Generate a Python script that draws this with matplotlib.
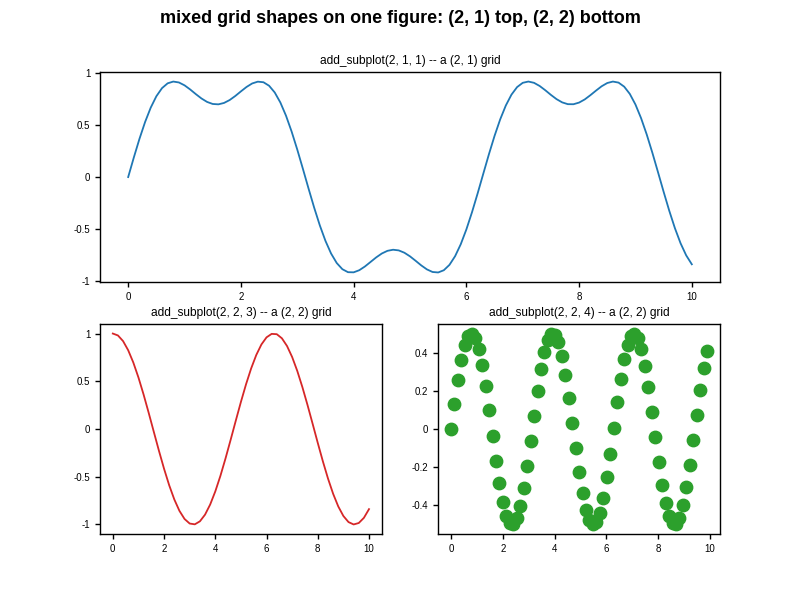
import matplotlib
matplotlib.use("Agg")
import matplotlib.pyplot as plt
from matplotlib.ticker import FuncFormatter, MultipleLocator

plt.rcParams['font.family'] = ['Liberation Sans', 'DejaVu Sans']
plt.rcParams['axes.unicode_minus'] = False

# top panel: x from 0 to 10 step 0.1
top_x = [i / 10 for i in range(101)]
top_y = [0.0, 0.1885, 0.3681, 0.5305, 0.6690, 0.7787, 0.8567, 0.9032, 0.9201, 0.9115,
         0.8838, 0.8439, 0.7992, 0.7573, 0.7239, 0.7042, 0.7007, 0.7140, 0.7420, 0.7811,
         0.8255, 0.8682, 0.9020, 0.9192, 0.9136, 0.8799, 0.8151, 0.7184, 0.5914, 0.4381,
         0.2647, 0.0790, -0.1107, -0.2950, -0.4655, -0.6147, -0.7368, -0.8282, -0.8876, -0.9164,
         -0.9178, -0.8974, -0.8615, -0.8179, -0.7740, -0.7364, -0.7106, -0.7001, -0.7065, -0.7288,
         -0.7638, -0.8068, -0.8512, -0.8895, -0.9145, -0.9190, -0.8976, -0.8459, -0.7624, -0.6477,
         -0.5047, -0.3387, -0.1573, 0.0319, 0.2195, 0.3968, 0.5556, 0.6895, 0.7940, 0.8668,
         0.9080, 0.9203, 0.9081, 0.8777, 0.8366, 0.7918, 0.7508, 0.7196, 0.7024, 0.7017,
         0.7177, 0.7479, 0.7888, 0.8329, 0.8748, 0.9062, 0.9201, 0.9101, 0.8711, 0.8010,
         0.6990, 0.5671, 0.4102, 0.2342, 0.0471, -0.1422, -0.3250, -0.4924, -0.6373, -0.7543,
         -0.8404]

# bottom-left panel: x from 0 to 10 step 0.2
cos_x = [i / 5 for i in range(51)]
cos_y = [1.0, 0.9801, 0.9211, 0.8253, 0.6967, 0.5403, 0.3624, 0.1700, -0.0292, -0.2272,
         -0.4161, -0.5885, -0.7374, -0.8569, -0.9422, -0.9900, -0.9983, -0.9668, -0.8968, -0.7910,
         -0.6536, -0.4903, -0.3073, -0.1122, 0.0875, 0.2837, 0.4685, 0.6347, 0.7756, 0.8855,
         0.9602, 0.9965, 0.9932, 0.9502, 0.8694, 0.7539, 0.6084, 0.4385, 0.2513, 0.0540,
         -0.1455, -0.3392, -0.5193, -0.6787, -0.8111, -0.9111, -0.9748, -0.9996, -0.9846, -0.9304,
         -0.8391]

# bottom-right panel: 75 points, spacing ~0.1338
sc_x = [round(i * 0.133779, 4) for i in range(75)]
sc_y = [0.0, 0.132, 0.255, 0.360, 0.439, 0.486, 0.500, 0.477, 0.421, 0.334,
        0.224, 0.098, -0.035, -0.165, -0.285, -0.384, -0.454, -0.493, -0.497, -0.467,
        -0.402, -0.309, -0.194, -0.064, 0.069, 0.198, 0.313, 0.405, 0.468, 0.497,
        0.493, 0.454, 0.383, 0.284, 0.163, 0.033, -0.099, -0.226, -0.335, -0.422,
        -0.478, -0.500, -0.486, -0.438, -0.359, -0.253, -0.131, 0.004, 0.139, 0.261,
        0.365, 0.442, 0.488, 0.500, 0.476, 0.417, 0.329, 0.218, 0.091, -0.042,
        -0.172, -0.291, -0.389, -0.457, -0.494, -0.497, -0.465, -0.399, -0.305, -0.189,
        -0.059, 0.075, 0.204, 0.317, 0.408]

fmt = FuncFormatter(lambda v, p: f"{v:g}")

fig = plt.figure(figsize=(8, 6), dpi=100)
fig.suptitle("mixed grid shapes on one figure: (2, 1) top, (2, 2) bottom",
             fontsize=13, fontweight='bold', y=0.983)

ax1 = fig.add_subplot(2, 1, 1)
ax1.plot(top_x, top_y, color='#1f77b4', lw=1.3)
ax1.set_title("add_subplot(2, 1, 1) -- a (2, 1) grid", fontsize=8.6)

ax2 = fig.add_subplot(2, 2, 3)
ax2.plot(cos_x, cos_y, color='#d62728', lw=1.3)
ax2.set_title("add_subplot(2, 2, 3) -- a (2, 2) grid", fontsize=8.6)

ax3 = fig.add_subplot(2, 2, 4)
ax3.scatter(sc_x, sc_y, color='#2ca02c', s=80)
ax3.set_title("add_subplot(2, 2, 4) -- a (2, 2) grid", fontsize=8.6)

for ax in (ax1, ax2):
    ax.yaxis.set_major_locator(MultipleLocator(0.5))

for ax in (ax1, ax2, ax3):
    ax.xaxis.set_major_formatter(fmt)
    ax.yaxis.set_major_formatter(fmt)
    ax.tick_params(labelsize=7, length=3.5, width=1)
    for sp in ax.spines.values():
        sp.set_linewidth(1.0)

fig.savefig("out.png", dpi=100)
